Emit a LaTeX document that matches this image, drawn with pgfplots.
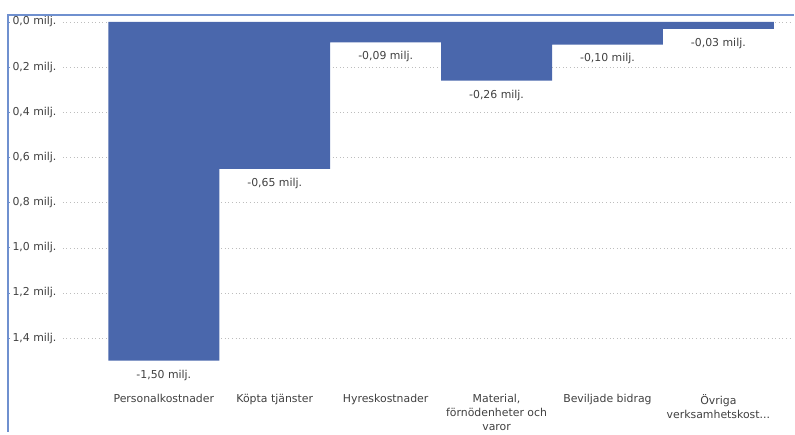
\documentclass[border=0pt]{standalone}
\usepackage{pgfplots}
\pgfplotsset{compat=1.18}
\usepackage{fontspec}
\setmainfont{DejaVu Sans}
\definecolor{barblue}{HTML}{4A67AC}
\definecolor{framblue}{HTML}{6F90CF}
\definecolor{txtgray}{HTML}{404040}
\definecolor{gridgray}{HTML}{BDBDBD}
\newcommand{\chartfont}{\fontsize{10.9}{14}\selectfont}
\begin{document}
\begin{tikzpicture}
\begin{axis}[
  scale only axis, width=787pt, height=417pt,
  xmin=-1.405, xmax=5.685,
  ymin=-0.031, ymax=1.814, y dir=reverse,
  axis line style={draw=none},
  xtick={0,1,2,3,4,5},
  xticklabels={Personalkostnader, Köpta tjänster, Hyreskostnader,
    {Material,\\förnödenheter och\\varor}, Beviljade bidrag,
    {Övriga\\verksamhetskost{.}{.}{.}}},
  xticklabel style={align=center, anchor=north, yshift=43pt,
    font=\chartfont, text=txtgray},
  x tick style={draw=none},
  ytick={0,0.2,0.4,0.6,0.8,1.0,1.2,1.4},
  ytick pos=left, tick align=inside, major tick length=2.5pt,
  y tick style={framblue, line width=0.8pt},
  yticklabel={\pgfmathprintnumber[fixed,fixed zerofill,precision=1,use comma,assume math mode=true]{\tick}~milj.},
  yticklabel style={anchor=west, xshift=1pt, font=\chartfont, text=txtgray},
  ybar, bar width=111pt,
  nodes near coords={-\pgfmathprintnumber[fixed,fixed zerofill,precision=2,use comma,assume math mode=true]{\pgfplotspointmeta}~milj.},
  every node near coord/.append style={anchor=north, yshift=-5.5pt,
    font=\chartfont, text=txtgray},
]
\pgfplotsinvokeforeach{0,0.2,0.4,0.6,0.8,1.0,1.2,1.4}{
  \draw[gridgray, dash pattern=on 1pt off 2.6pt] (axis cs:-0.91,#1) -- (axis cs:5.66,#1);
}
\addplot[fill=barblue, draw=none] coordinates {
(0, 1.50)
(1, 0.65)
(2, 0.09)
(3, 0.26)
(4, 0.10)
(5, 0.03)
};
\end{axis}
\draw[framblue, line width=1.3pt] (current axis.south west) -- (current axis.north west) -- (current axis.north east);
\path ([xshift=-8pt, yshift=15pt]current axis.north west);
\end{tikzpicture}
\end{document}
